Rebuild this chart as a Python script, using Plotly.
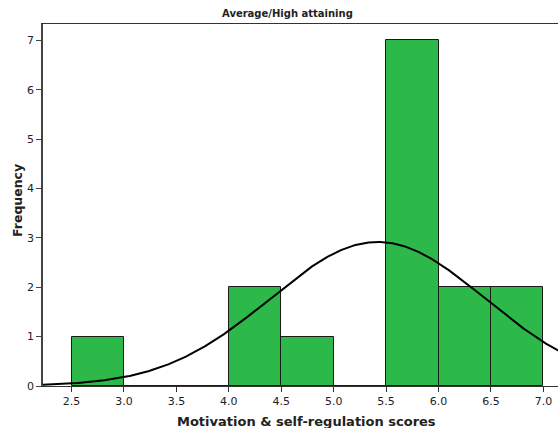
import numpy as np
import plotly.graph_objects as go

# Data
bin_left = [2.5, 3.0, 3.5, 4.0, 4.5, 5.0, 5.5, 6.0, 6.5]
counts = [1, 0, 0, 2, 1, 0, 7, 2, 2]
bin_width = 0.5
n_total = 15
fit_mean = 5.42
fit_sd = 1.026
x_ticks = [2.5, 3.0, 3.5, 4.0, 4.5, 5.0, 5.5, 6.0, 6.5, 7.0]
x_tick_labels = ["2.5", "3.0", "3.5", "4.0", "4.5", "5.0", "5.5", "6.0", "6.5", "7.0"]
y_ticks = [0, 1, 2, 3, 4, 5, 6, 7]

centers = [b + bin_width / 2 for b in bin_left]

xs = np.linspace(2.2, 7.2, 400)
ys = n_total * bin_width / (fit_sd * np.sqrt(2 * np.pi)) * np.exp(-0.5 * ((xs - fit_mean) / fit_sd) ** 2)

FONT = "DejaVu Sans, sans-serif"

fig = go.Figure()
fig.add_trace(go.Bar(
    x=centers, y=counts, width=bin_width,
    marker=dict(color="#2db84a", line=dict(color="#1a1a1a", width=1)),
    hoverinfo="skip",
))
fig.add_trace(go.Scatter(
    x=xs, y=ys, mode="lines",
    line=dict(color="black", width=2),
    hoverinfo="skip",
))

fig.update_layout(
    width=558, height=428,
    margin=dict(l=43, r=0, t=24, b=42),
    plot_bgcolor="white", paper_bgcolor="white",
    showlegend=False,
    bargap=0,
    font=dict(family=FONT, size=11, color="#222"),
)
fig.update_xaxes(
    range=[2.228, 7.139],
    tickvals=x_ticks, ticktext=x_tick_labels,
    showgrid=False, zeroline=False,
    showline=True, linecolor="#333", linewidth=1, mirror=True,
    ticks="outside", ticklen=5, tickcolor="#333",
    tickfont=dict(size=11),
)
fig.update_yaxes(
    range=[0, 7.33],
    tickvals=y_ticks,
    showgrid=False, zeroline=False,
    showline=True, linecolor="#444", linewidth=1.5,
    ticks="outside", ticklen=5, tickcolor="#444",
    tickfont=dict(size=11),
)

fig.add_annotation(text="<b>Average/High attaining</b>", xref="paper", yref="paper",
                   x=(287 - 43) / 515, y=1 + (24 - 13) / 362, showarrow=False,
                   font=dict(size=10, color="#222"), xanchor="center", yanchor="middle")
fig.add_annotation(text="<b>Frequency</b>", xref="paper", yref="paper",
                   x=(17 - 43) / 515, y=(386 - 201) / 362, showarrow=False, textangle=-90,
                   font=dict(size=12.5, color="#222"), xanchor="center", yanchor="middle")
fig.add_annotation(text="<b>Motivation &amp; self-regulation scores</b>", xref="paper", yref="paper",
                   x=(306 - 43) / 515, y=-(421 - 386) / 362, showarrow=False,
                   font=dict(size=13, color="#222"), xanchor="center", yanchor="middle")

fig.write_html("out.html")
